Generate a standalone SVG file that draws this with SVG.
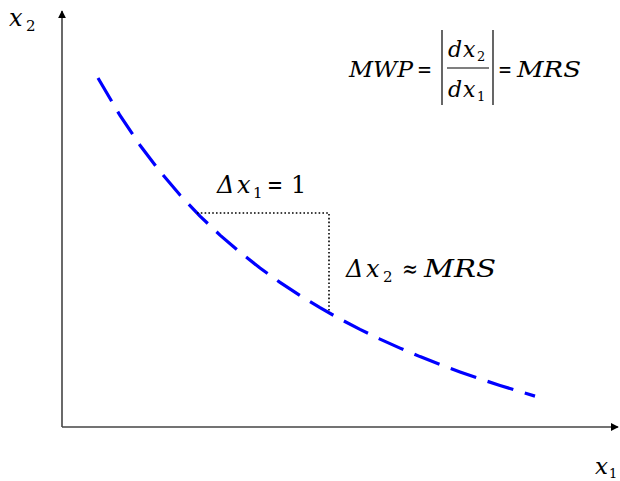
<svg xmlns="http://www.w3.org/2000/svg" width="620" height="481" viewBox="0 0 620 481">
<style>
.m{font-style:italic;fill:#000}
.r{fill:#000}
.ax{stroke:#444;stroke-width:1.6;fill:none}
.dot{stroke:#000;stroke-width:1.6;stroke-dasharray:1.6 2.2;fill:none}
.curve{stroke:#0000ff;stroke-width:3.2;stroke-dasharray:27 12;fill:none}
</style>
<defs>
<marker id="arr" viewBox="0 0 10 10" refX="9" refY="5" markerWidth="8" markerHeight="8" markerUnits="userSpaceOnUse" orient="auto">
<path d="M0,0 L10,5 L0,10 z" fill="#000"/>
</marker>
</defs>
<g id="axes">
<path class="ax" d="M62,427 L62,11" marker-end="url(#arr)"/>
<path class="ax" d="M62,427 L618,427" marker-end="url(#arr)"/>
</g>
<g id="connectors">
<path class="curve" d="M98,78 L120,115.5 L140,145.2 L160,171.5 L180,195 L200,216.1 L220,235.1 L240,252.3 L260,268 L280,282.4 L300,295.6 L320,307.7 L340,319 L360,329.4 L380,339.1 L400,348.1 L420,356.6 L440,364.5 L460,371.9 L480,378.9 L500,385.4 L520,391.6 L535,396.1"/>
<path class="dot" d="M197,213 L329,213 L329,313"/>
</g>
<g font-family="DejaVu Serif, serif">
<g id="label-x2">
<text class="m" x="9" y="26" font-size="24">x</text>
<text class="r" x="26" y="31" font-size="15">2</text>
</g>
<g id="label-x1">
<text class="m" x="595" y="474" font-size="23">x</text>
<text class="r" x="609" y="478" font-size="13">1</text>
</g>
<g id="formula">
<text class="m" x="349" y="77" font-size="23" textLength="64" lengthAdjust="spacingAndGlyphs">MWP</text>
<text class="r" x="417" y="77" font-size="22" textLength="15" lengthAdjust="spacingAndGlyphs">=</text>
<line x1="442" y1="30" x2="442" y2="105" stroke="#000" stroke-width="1.2"/>
<line x1="493" y1="30" x2="493" y2="105" stroke="#000" stroke-width="1.2"/>
<line x1="447" y1="68" x2="489" y2="68" stroke="#000" stroke-width="1.2"/>
<text class="m" x="448" y="57" font-size="22">d</text>
<text class="m" x="463" y="57" font-size="22">x</text>
<text class="r" x="477" y="61" font-size="13">2</text>
<text class="m" x="448" y="97" font-size="22">d</text>
<text class="m" x="463" y="97" font-size="22">x</text>
<text class="r" x="477" y="101" font-size="13">1</text>
<text class="r" x="498" y="77" font-size="22" textLength="14" lengthAdjust="spacingAndGlyphs">=</text>
<text class="m" x="517" y="77" font-size="23" textLength="64" lengthAdjust="spacingAndGlyphs">MRS</text>
</g>
<g id="label-dx1">
<text class="m" x="217" y="193" font-size="24">Δ</text>
<text class="m" x="237" y="193" font-size="24">x</text>
<text class="r" x="253" y="198" font-size="15">1</text>
<text class="r" x="267" y="193" font-size="24" textLength="16" lengthAdjust="spacingAndGlyphs">=</text>
<text class="r" x="291" y="193" font-size="24">1</text>
</g>
<g id="label-dx2">
<text class="m" x="346" y="277" font-size="24">Δ</text>
<text class="m" x="366" y="277" font-size="24">x</text>
<text class="r" x="383" y="282" font-size="15">2</text>
<text class="r" x="402" y="277" font-size="24" textLength="16" lengthAdjust="spacingAndGlyphs">≈</text>
<text class="m" x="424" y="277" font-size="24" textLength="72" lengthAdjust="spacingAndGlyphs">MRS</text>
</g>
</g>
</svg>
